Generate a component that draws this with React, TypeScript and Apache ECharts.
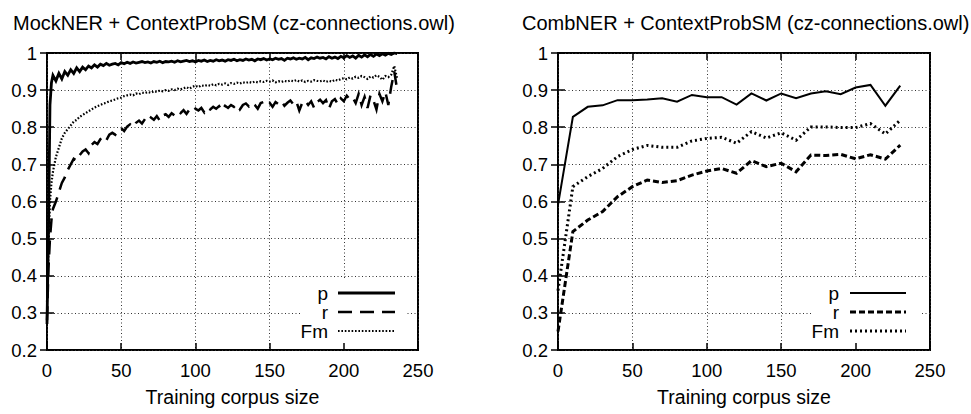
import React, { useEffect, useRef } from "react";
import * as echarts from "echarts";

const FONT = "'Liberation Sans', Arial, Helvetica, sans-serif";

const titles = [
  "MockNER + ContextProbSM (cz-connections.owl)",
  "CombNER + ContextProbSM (cz-connections.owl)",
];
const xAxisName = "Training corpus size";
const seriesNames = ["p", "r", "Fm"];

const xMin = 0;
const xMax = 250;
const xStep = 50;
const yMin = 0.2;
const yMax = 1;
const yStep = 0.1;

// Left panel (MockNER)
const leftX = [
  0, 1, 2, 3, 4,
  6, 8, 10, 12, 14, 16, 18, 20, 22, 24,
  26, 28, 30, 32, 34, 36, 38, 40, 42, 44,
  46, 48, 50, 52, 54, 56, 58, 60, 62, 64,
  66, 68, 70, 72, 74, 76, 78, 80, 82, 84,
  86, 88, 90, 92, 94, 96, 98, 100, 102, 104,
  106, 108, 110, 112, 114, 116, 118, 120, 122, 124,
  126, 128, 130, 132, 134, 136, 138, 140, 142, 144,
  146, 148, 150, 152, 154, 156, 158, 160, 162, 164,
  166, 168, 170, 172, 174, 176, 178, 180, 182, 184,
  186, 188, 190, 192, 194, 196, 198, 200, 202, 204,
  206, 208, 210, 212, 214, 216, 218, 220, 222, 224,
  226, 228, 230, 232, 234, 236,
];
const leftP = [
  0.27, 0.52, 0.86, 0.92, 0.94,
  0.925, 0.945, 0.93, 0.95, 0.94, 0.955, 0.945, 0.96, 0.95, 0.962,
  0.955, 0.965, 0.96, 0.968, 0.962, 0.97, 0.966, 0.972, 0.967, 0.97,
  0.972, 0.968, 0.974, 0.971, 0.975, 0.972, 0.976, 0.973, 0.975, 0.977,
  0.974, 0.976, 0.973, 0.977, 0.975, 0.978, 0.974, 0.977, 0.976, 0.978,
  0.975, 0.979, 0.976, 0.978, 0.98, 0.977, 0.979, 0.976, 0.98, 0.978,
  0.981, 0.977, 0.98, 0.978, 0.982, 0.979, 0.981, 0.978, 0.982, 0.98,
  0.983, 0.979, 0.982, 0.98, 0.984, 0.981, 0.983, 0.979, 0.984, 0.982,
  0.985, 0.981, 0.984, 0.982, 0.986, 0.983, 0.985, 0.98, 0.986, 0.984,
  0.987, 0.983, 0.986, 0.984, 0.988, 0.982, 0.987, 0.985, 0.989, 0.986,
  0.988, 0.984, 0.99, 0.986, 0.989, 0.985, 0.991, 0.987, 0.993, 0.988,
  0.992, 0.986, 0.994, 0.989, 0.995, 0.99, 0.996, 0.991, 0.997, 0.993,
  0.998, 0.994, 0.999, 0.996, 1.0, 0.998,
];
const leftR = [
  0.28, 0.42, 0.5, 0.55, 0.58,
  0.6, 0.625, 0.65, 0.665, 0.685, 0.7, 0.715, 0.71, 0.725, 0.735,
  0.74, 0.73, 0.752, 0.76, 0.755, 0.768, 0.775, 0.765, 0.78, 0.785,
  0.78, 0.792, 0.798, 0.79, 0.802, 0.808, 0.8, 0.812, 0.818, 0.81,
  0.822, 0.815, 0.826, 0.82, 0.83, 0.818, 0.832, 0.835, 0.828, 0.838,
  0.832, 0.843, 0.838, 0.846, 0.836, 0.848, 0.842, 0.85, 0.845, 0.852,
  0.84, 0.853, 0.848, 0.855, 0.85, 0.857, 0.845, 0.858, 0.852, 0.86,
  0.855, 0.862, 0.848, 0.86, 0.864, 0.856, 0.866, 0.86, 0.85, 0.865,
  0.868, 0.86, 0.866, 0.855, 0.868, 0.862, 0.87, 0.858, 0.866, 0.872,
  0.862, 0.87, 0.845, 0.866, 0.872, 0.86, 0.87, 0.852, 0.868, 0.874,
  0.865, 0.873, 0.85, 0.87, 0.876, 0.862, 0.878, 0.87, 0.885, 0.875,
  0.88, 0.865, 0.89, 0.86, 0.882, 0.852, 0.886, 0.872, 0.848, 0.89,
  0.87, 0.895, 0.86, 0.91, 0.95, 0.9,
];
const leftFm = [
  0.33, 0.47, 0.6, 0.65, 0.68,
  0.72, 0.745, 0.77, 0.785, 0.795, 0.805, 0.815, 0.82, 0.828, 0.833,
  0.838, 0.843, 0.848, 0.853, 0.857, 0.86, 0.864, 0.866, 0.87, 0.872,
  0.875, 0.878, 0.88, 0.884, 0.886, 0.888, 0.886, 0.891, 0.889, 0.893,
  0.892, 0.895, 0.893, 0.897, 0.895, 0.899, 0.897, 0.9, 0.898, 0.902,
  0.9, 0.904, 0.902, 0.905, 0.908, 0.904, 0.909, 0.912, 0.908, 0.913,
  0.911, 0.914, 0.912, 0.916, 0.913, 0.917, 0.915, 0.918, 0.914, 0.919,
  0.917, 0.92, 0.918, 0.921, 0.919, 0.922, 0.92, 0.923, 0.921, 0.924,
  0.922, 0.925, 0.923, 0.926, 0.921, 0.924, 0.922, 0.925, 0.923, 0.926,
  0.924, 0.927, 0.923, 0.926, 0.922, 0.925, 0.923, 0.927, 0.925, 0.924,
  0.926, 0.922, 0.925, 0.923, 0.928, 0.926, 0.93, 0.932, 0.929, 0.934,
  0.931, 0.936, 0.933, 0.938, 0.935, 0.93, 0.937, 0.934, 0.94, 0.936,
  0.928, 0.938, 0.935, 0.942, 0.965, 0.93,
];

// Right panel (CombNER)
const rightX = [
  0, 10, 20, 30, 40, 50, 60, 70, 80, 90, 100, 110,
  120, 130, 140, 150, 160, 170, 180, 190, 200, 210, 220, 230,
];
const rightP = [
  0.591, 0.828, 0.855, 0.859, 0.873, 0.873, 0.875, 0.878, 0.869, 0.887, 0.881, 0.881,
  0.861, 0.891, 0.872, 0.891, 0.878, 0.891, 0.897, 0.889, 0.907, 0.914, 0.858, 0.912,
];
const rightR = [
  0.25, 0.519, 0.55, 0.573, 0.613, 0.64, 0.658, 0.651, 0.656, 0.671, 0.682, 0.689,
  0.676, 0.71, 0.694, 0.703, 0.68, 0.725, 0.724, 0.727, 0.715, 0.726, 0.714, 0.752,
];
const rightFm = [
  0.36, 0.64, 0.667, 0.689, 0.721, 0.74, 0.751, 0.746, 0.746, 0.763, 0.77, 0.773,
  0.757, 0.788, 0.771, 0.785, 0.765, 0.801, 0.801, 0.799, 0.799, 0.81, 0.782, 0.819,
];

const panels = [
  {
    x: leftX,
    ys: [leftP, leftR, leftFm],
    styles: [
      { width: 2.8, type: "solid" as any },
      { width: 2.5, type: [14, 8] as any },
      { width: 2.2, type: [1.6, 1.8] as any },
    ],
  },
  {
    x: rightX,
    ys: [rightP, rightR, rightFm],
    styles: [
      { width: 2, type: "solid" as any },
      { width: 3, type: [6, 3] as any },
      { width: 3, type: [2, 3] as any },
    ],
  },
];

// layout (pixels)
const grids = [
  { left: 47, right: 553, top: 53, bottom: 64 },
  { left: 558, right: 41, top: 53, bottom: 64 },
];
const titlePos = [
  { left: 13, top: 13 },
  { left: 522, top: 13 },
];
const legendBoxes = [
  { x: 300, y: 279, w: 107, h: 69, textRight: 328, lineX1: 338, lineX2: 395 },
  { x: 812, y: 277, w: 108, h: 71, textRight: 839, lineX1: 850, lineX2: 906 },
];
const legendRows = [293, 312, 331];

const fmt = (v: number) => String(Number(v.toFixed(1)));

function buildOption() {
  const xAxis: any[] = [];
  const yAxis: any[] = [];
  const series: any[] = [];
  const graphic: any[] = [];
  const dotted = { color: "#333", width: 1, type: [1, 2.5] };

  grids.forEach((_, g) => {
    xAxis.push({
      gridIndex: g,
      type: "value",
      min: xMin,
      max: xMax,
      interval: xStep,
      position: "bottom",
      z: 3,
      axisLine: { show: false },
      axisTick: { show: true, inside: true, length: 7, lineStyle: { color: "#000", width: 1.5 } },
      axisLabel: { color: "#000", fontSize: 18.5, fontFamily: FONT, margin: 11 },
      splitLine: { show: false },
      name: xAxisName,
      nameLocation: "middle",
      nameGap: 37,
      nameTextStyle: { color: "#000", fontSize: 19.5, fontFamily: FONT },
    });
    xAxis.push({
      gridIndex: g,
      type: "value",
      min: xMin,
      max: xMax,
      interval: xStep,
      position: "top",
      z: 0,
      axisLine: { show: false },
      axisTick: { show: true, inside: true, length: 7, lineStyle: { color: "#000", width: 1.5 } },
      axisLabel: { show: false },
      splitLine: { show: true, lineStyle: dotted },
    });
    yAxis.push({
      gridIndex: g,
      type: "value",
      min: yMin,
      max: yMax,
      interval: yStep,
      position: "left",
      z: 3,
      axisLine: { show: false },
      axisTick: { show: true, inside: true, length: 7, lineStyle: { color: "#000", width: 1.5 } },
      axisLabel: { color: "#000", fontSize: 18.5, fontFamily: FONT, margin: 10, formatter: fmt },
      splitLine: { show: false },
    });
    yAxis.push({
      gridIndex: g,
      type: "value",
      min: yMin,
      max: yMax,
      interval: yStep,
      position: "right",
      z: 0,
      axisLine: { show: false },
      axisTick: { show: true, inside: true, length: 7, lineStyle: { color: "#000", width: 1.5 } },
      axisLabel: { show: false },
      splitLine: { show: true, lineStyle: dotted },
    });

    const p = panels[g];
    p.ys.forEach((ys, k) => {
      series.push({
        type: "line",
        name: seriesNames[k],
        xAxisIndex: g * 2,
        yAxisIndex: g * 2,
        data: p.x.map((x, i) => [x, ys[i]]),
        symbol: "none",
        showSymbol: false,
        silent: true,
        z: 4,
        lineStyle: { color: "#000", width: p.styles[k].width, type: p.styles[k].type, cap: "butt", join: "miter" },
      });
    });

    const lb = legendBoxes[g];
    graphic.push({
      type: "rect",
      z: 1,
      silent: true,
      shape: { x: lb.x, y: lb.y, width: lb.w, height: lb.h },
      style: { fill: "#fff" },
    });
    seriesNames.forEach((nm, k) => {
      graphic.push({
        type: "text",
        z: 5,
        silent: true,
        style: {
          text: nm,
          x: lb.textRight,
          y: legendRows[k],
          align: "right",
          verticalAlign: "middle",
          textAlign: "right",
          textVerticalAlign: "middle",
          fontSize: 19,
          fontFamily: FONT,
          fill: "#000",
        },
      });
      const st = p.styles[k];
      graphic.push({
        type: "line",
        z: 5,
        silent: true,
        shape: { x1: lb.lineX1, y1: legendRows[k], x2: lb.lineX2, y2: legendRows[k] },
        style: {
          stroke: "#000",
          lineWidth: st.width,
          lineDash: Array.isArray(st.type) ? st.type : null,
        },
      });
    });
  });

  return {
    animation: false,
    backgroundColor: "#fff",
    title: titles.map((t, i) => ({
      text: t,
      left: titlePos[i].left,
      top: titlePos[i].top,
      padding: 0,
      textStyle: { color: "#000", fontSize: 20, fontWeight: "normal", fontFamily: FONT },
    })),
    grid: grids.map((g) => ({
      ...g,
      show: true,
      borderColor: "#000",
      borderWidth: 2,
      backgroundColor: "transparent",
      containLabel: false,
    })),
    xAxis,
    yAxis,
    series,
    graphic: { elements: graphic },
  };
}

export default function App() {
  const ref = useRef<HTMLDivElement>(null);
  useEffect(() => {
    if (!ref.current) return;
    const chart = echarts.init(ref.current, null, { renderer: "svg" });
    chart.setOption(buildOption() as any);
    return () => chart.dispose();
  }, []);
  return (
    <div
      ref={ref}
      style={{ position: "fixed", left: 0, top: 0, width: 971, height: 414, background: "#fff" }}
    />
  );
}
